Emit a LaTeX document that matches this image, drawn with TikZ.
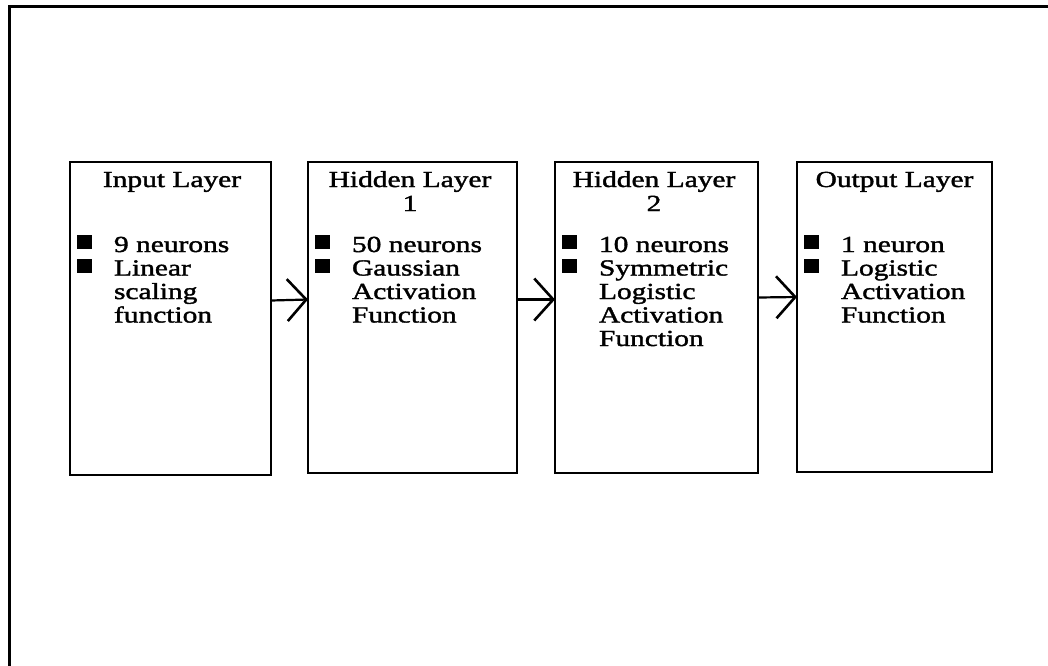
\documentclass[tikz,border=0pt]{standalone}
\usepackage{fontspec}
\setmainfont[FakeStretch=1.28,FakeBold=1.6]{Liberation Serif}
\usetikzlibrary{arrows.meta}

% bullet square plus its first text line
\newcommand\firstline[4]{%
  \node[bul] (#1-b) at (#2+14,#3-10) {};
  \node[item] (#1) at (#2+44,#3) {#4};}
% wrapped continuation line of an item
\newcommand\moreline[4]{%
  \node[item] (#1) at (#2+44,#3) {#4};}

\begin{document}
\begin{tikzpicture}[x=1pt,y=-1pt,
  layerbox/.style={draw,line width=2pt,inner sep=0pt,outer sep=0pt},
  txt/.style={inner sep=0pt,outer sep=0pt,font=\fontsize{23}{24}\selectfont},
  title/.style={txt,anchor=base},
  item/.style={txt,anchor=base west},
  bul/.style={fill,inner sep=0pt,minimum width=15pt,minimum height=14pt},
  link/.style={line width=2.2pt,-{Straight Barb[length=19pt,width=42pt,line width=2.6pt]}}]
\useasboundingbox (0,0) rectangle (1048,665);

% page frame (only the left and top edges fall inside)
\draw[line width=3pt] (9,680) -- (9,6) -- (1060,6);

% layer boxes
\node[layerbox,minimum width=201pt,minimum height=313pt] (in)  at (170.5,318.5) {};
\node[layerbox,minimum width=209pt,minimum height=311pt] (h1)  at (412.5,317.5) {};
\node[layerbox,minimum width=203pt,minimum height=311pt] (h2)  at (656.5,317.5) {};
\node[layerbox,minimum width=195pt,minimum height=310pt] (out) at (894.5,317) {};

% input layer
\node[title] (in-t) at (172,187) {Input Layer};
\firstline{in-1}{70}{252}{9 neurons}
\firstline{in-2}{70}{275.5}{Linear}
\moreline{in-3}{70}{299}{scaling}
\moreline{in-4}{70}{322.5}{function}

% hidden layer 1
\node[title] (h1-t)  at (410,187) {Hidden Layer};
\node[title] (h1-t2) at (410,211) {1};
\firstline{h1-1}{308}{252}{50 neurons}
\firstline{h1-2}{308}{275.5}{Gaussian}
\moreline{h1-3}{308}{299}{Activation}
\moreline{h1-4}{308}{322.5}{Function}

% hidden layer 2
\node[title] (h2-t)  at (654,187) {Hidden Layer};
\node[title] (h2-t2) at (654,211) {2};
\firstline{h2-1}{555}{252}{10 neurons}
\firstline{h2-2}{555}{275.5}{Symmetric}
\moreline{h2-3}{555}{299}{Logistic}
\moreline{h2-4}{555}{322.5}{Activation}
\moreline{h2-5}{555}{346}{Function}

% output layer
\node[title] (out-t) at (894.5,187) {Output Layer};
\firstline{out-1}{797}{252}{1 neuron}
\firstline{out-2}{797}{275.5}{Logistic}
\moreline{out-3}{797}{299}{Activation}
\moreline{out-4}{797}{322.5}{Function}

% connections between layers
\draw[link] ([yshift=18pt]in.east) -- ([yshift=18pt]h1.west);
\draw[link] ([yshift=18pt]h1.east) -- ([yshift=18pt]h2.west);
\draw[link] ([yshift=20pt]h2.east) -- ([yshift=20pt]out.west);
\end{tikzpicture}
\end{document}
